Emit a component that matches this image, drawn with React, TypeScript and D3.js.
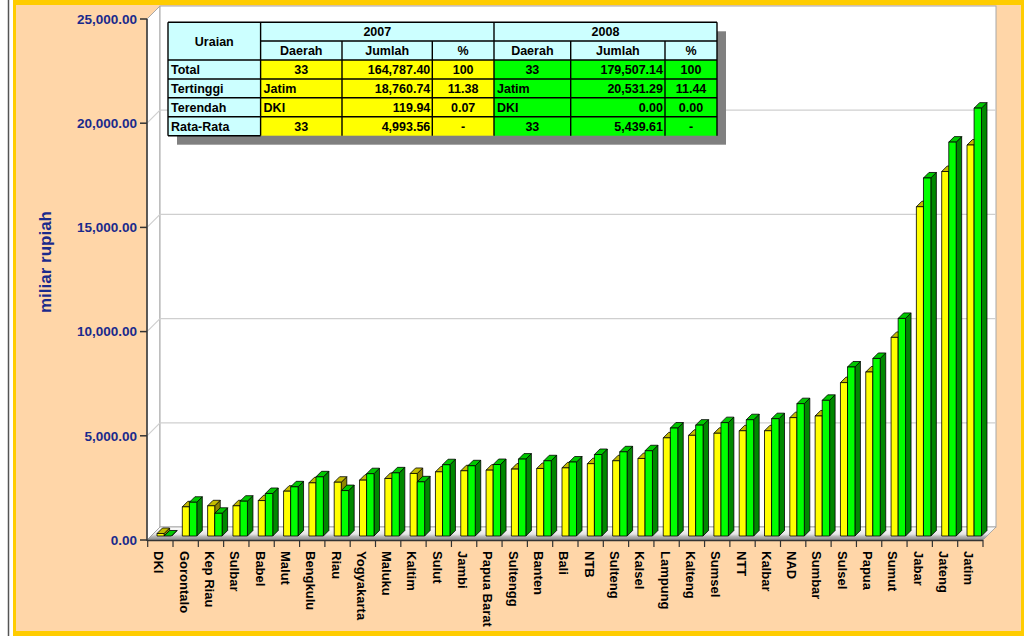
import React from 'react';
import * as d3 from 'd3';

const categories = ['DKI','Gorontalo','Kep Riau','Sulbar','Babel','Malut','Bengkulu','Riau','Yogyakarta','Maluku','Kaltim','Sulut','Jambi','Papua Barat','Sultengg','Banten','Bali','NTB','Sulteng','Kalsel','Lampung','Kalteng','Sumsel','NTT','Kalbar','NAD','Sumbar','Sulsel','Papua','Sumut','Jabar','Jateng','Jatim'];
const values2007 = [119.94,1400,1450,1450,1700,2150,2550,2580,2680,2760,3000,3080,3130,3160,3210,3240,3270,3470,3610,3720,4710,4830,4930,5050,5050,5680,5760,7360,7870,9530,15800,17490,18760.74];
const values2008 = [0,1620,1090,1670,2040,2360,2840,2180,2990,3030,2600,3420,3370,3430,3690,3610,3550,3910,4040,4090,5180,5320,5440,5580,5630,6350,6510,8110,8520,10440,17180,18900,20531.29];
const yTicks = [0, 5000, 10000, 15000, 20000, 25000];
const yTitle = 'miliar rupiah';

const tableYears = ['2007', '2008'];
const tableSubHeaders = ['Daerah', 'Jumlah', '%'];
const tableRowLabels = ['Total', 'Tertinggi', 'Terendah', 'Rata-Rata'];
const table2007 = [['33', '164,787.40', '100'], ['Jatim', '18,760.74', '11.38'], ['DKI', '119.94', '0.07'], ['33', '4,993.56', '-']];
const table2008 = [['33', '179,507.14', '100'], ['Jatim', '20,531.29', '11.44'], ['DKI', '0.00', '0.00'], ['33', '5,439.61', '-']];

const FONT = '"Liberation Sans", Arial, sans-serif';

export default function App() {
  const W = 1024, H = 636;
  const x = d3.scaleBand<string>().domain(categories).range([147.7, 983]).paddingInner(0).paddingOuter(0);
  const y = d3.scaleLinear().domain([0, 25000]).range([540, 19]);
  const bw = x.bandwidth();
  const D = 13; // wall depth
  const bOff = 4; // bar plane offset
  const dd = 5.5; // bar depth
  const fmt = d3.format(',.2f');
  const x0 = 147.7, x1 = 983;

  const bar = (bx: number, w: number, v: number, front: string, top: string, side: string, key: string) => {
    const yb = y(0) - bOff;
    const yt = y(v) - bOff;
    return (
      <g key={key} stroke="#000" strokeWidth={0.8} strokeLinejoin="round">
        <polygon points={`${bx + w},${yt} ${bx + w + dd},${yt - dd} ${bx + w + dd},${yb - dd} ${bx + w},${yb}`} fill={side} />
        <polygon points={`${bx},${yt} ${bx + dd},${yt - dd} ${bx + w + dd},${yt - dd} ${bx + w},${yt}`} fill={top} />
        <rect x={bx} y={yt} width={w} height={Math.max(0, yb - yt)} fill={front} />
      </g>
    );
  };

  const colX = [168, 260.6, 342, 432.3, 494, 570.7, 665, 717];
  const rowY = [22.3, 41, 60, 79, 97.7, 116.7, 135.7];

  const cellText = (txt: string, ci: number, ri: number, align: 'start' | 'middle' | 'end', key: string) => {
    const l = colX[ci], r = colX[ci + 1];
    const tx = align === 'start' ? l + 3 : align === 'end' ? r - 2 : (l + r) / 2;
    const ty = (rowY[ri] + rowY[ri + 1]) / 2 + 4.5;
    return <text key={key} x={tx} y={ty} textAnchor={align} fontSize={12.5} fontWeight="bold" fontFamily={FONT} fill="#000">{txt}</text>;
  };

  const dataAlign = (col: number, txt: string): 'start' | 'middle' | 'end' => {
    if (col === 1) return 'end';
    if (col === 2) return 'middle';
    return /^\d+$/.test(txt) ? 'middle' : 'start';
  };

  return (
    <svg width={W} height={H} style={{ position: 'absolute', left: 0, top: 0, background: '#fff' }}>
      <defs>
        <linearGradient id="floorG" gradientUnits="userSpaceOnUse" x1="0" y1={y(0) - D} x2="0" y2={y(0)}>
          <stop offset="0" stopColor="#ffffff" />
          <stop offset="0.55" stopColor="#e6e6e6" />
          <stop offset="0.72" stopColor="#b8b8b8" />
          <stop offset="1" stopColor="#8a8a8a" />
        </linearGradient>
      </defs>
      {/* frame */}
      <line x1={8.5} y1={0} x2={8.5} y2={H} stroke="#555" strokeWidth={1.5} />
      <rect x={13} y={0} width={W - 13} height={H} fill="#FFCC00" />
      <rect x={16} y={5} width={W - 16 - 3} height={H - 5 - 5} fill="#FFD6A8" />

      {/* walls */}
      <polygon points={`${x0 - 0.7},${y(25000)} ${x0 - 0.7 + D},${y(25000) - D} ${x0 - 0.7 + D},${y(0) - D} ${x0 - 0.7},${y(0)}`} fill="#fff" stroke="#a8a8a8" strokeWidth={1} />
      <rect x={x0 - 0.7 + D} y={y(25000) - D} width={x1 - x0 + 0.7} height={y(0) - y(25000)} fill="#fff" stroke="#a8a8a8" strokeWidth={1} />
      {yTicks.filter(t => t > 0 && t < 25000).map(t => (
        <g key={'g' + t} stroke="#cfcfcf" strokeWidth={1.2}>
          <line x1={147} y1={y(t)} x2={147 + D} y2={y(t) - D} />
          <line x1={147 + D} y1={y(t) - D} x2={x1 + D} y2={y(t) - D} />
        </g>
      ))}
      {/* floor */}
      <polygon points={`${147},${y(0)} ${x1},${y(0)} ${x1 + D},${y(0) - D} ${147 + D},${y(0) - D}`} fill="url(#floorG)" stroke="#9a9a9a" strokeWidth={0.8} />

      {/* bars */}
      {categories.map((c, i) => {
        const bx = (x(c) as number) + bOff + bw * 0.21;
        const wy = bw * 0.28, wg = bw * 0.292;
        return (
          <g key={c}>
            {bar(bx, wy, values2007[i], '#FFFF00', '#C4BC00', '#8C8600', c + 'a')}
            {bar(bx + wy, wg, values2008[i], '#00FF00', '#00C800', '#008800', c + 'b')}
          </g>
        );
      })}

      {/* y axis */}
      <line x1={147} y1={y(25000)} x2={147} y2={y(0) + 1} stroke="#333" strokeWidth={1.5} />
      {yTicks.map(t => (
        <g key={'t' + t}>
          <line x1={140} y1={y(t)} x2={147} y2={y(t)} stroke="#333" strokeWidth={1.5} />
          <text x={137} y={y(t) + 4.8} textAnchor="end" fontSize={13.5} fontWeight="bold" fontFamily={FONT} fill="#1A2A8C">{fmt(t)}</text>
        </g>
      ))}
      <text transform={`translate(51,262) rotate(-90)`} textAnchor="middle" fontSize={17} fontWeight="bold" fontFamily={FONT} fill="#1A2A8C">{yTitle}</text>

      {/* x axis */}
      <line x1={147} y1={y(0) + 0.5} x2={x1} y2={y(0) + 0.5} stroke="#333" strokeWidth={1.5} />
      {categories.concat(['__end']).map((c, i) => {
        const tx = i < categories.length ? (x(c) as number) : x1;
        return <line key={'xt' + i} x1={tx} y1={y(0)} x2={tx} y2={y(0) + 7} stroke="#333" strokeWidth={1.2} />;
      })}
      {categories.map(c => {
        const cx = (x(c) as number) + bw / 2 - 1.5;
        return (
          <text key={'xl' + c} transform={`translate(${cx},${y(0) + 11}) rotate(90)`} textAnchor="start" dominantBaseline="central" fontSize={13} fontWeight="bold" fontFamily={FONT} fill="#000">{c}</text>
        );
      })}

      {/* table */}
      <rect x={colX[0] + 9} y={rowY[0] + 9} width={colX[7] - colX[0]} height={rowY[6] - rowY[0]} fill="#808080" />
      <rect x={colX[0]} y={rowY[0]} width={colX[1] - colX[0]} height={rowY[6] - rowY[0]} fill="#CCFFFF" />
      <rect x={colX[1]} y={rowY[0]} width={colX[7] - colX[1]} height={rowY[2] - rowY[0]} fill="#CCFFFF" />
      <rect x={colX[1]} y={rowY[2]} width={colX[4] - colX[1]} height={rowY[6] - rowY[2]} fill="#FFFF00" />
      <rect x={colX[4]} y={rowY[2]} width={colX[7] - colX[4]} height={rowY[6] - rowY[2]} fill="#00FF00" />
      <g stroke="#000" strokeWidth={1.4}>
        <line x1={colX[0]} y1={rowY[0]} x2={colX[7]} y2={rowY[0]} />
        <line x1={colX[1]} y1={rowY[1]} x2={colX[7]} y2={rowY[1]} />
        {[2, 3, 4, 5].map(r => <line key={'h' + r} x1={colX[0]} y1={rowY[r]} x2={colX[7]} y2={rowY[r]} />)}
        <line x1={colX[0]} y1={rowY[6]} x2={colX[1]} y2={rowY[6]} />
        <line x1={colX[0]} y1={rowY[0]} x2={colX[0]} y2={rowY[6]} />
        <line x1={colX[1]} y1={rowY[0]} x2={colX[1]} y2={rowY[6]} />
        <line x1={colX[4]} y1={rowY[0]} x2={colX[4]} y2={rowY[6]} />
        <line x1={colX[7]} y1={rowY[0]} x2={colX[7]} y2={rowY[6]} />
        {[2, 3, 5, 6].map(c => <line key={'v' + c} x1={colX[c]} y1={rowY[1]} x2={colX[c]} y2={rowY[6]} />)}
      </g>
      <text x={(colX[0] + colX[1]) / 2} y={(rowY[0] + rowY[2]) / 2 + 4.5} textAnchor="middle" fontSize={12.5} fontWeight="bold" fontFamily={FONT}>Uraian</text>
      {tableYears.map((yr, k) => (
        <text key={yr} x={(colX[1 + k * 3] + colX[4 + k * 3]) / 2} y={(rowY[0] + rowY[1]) / 2 + 4.5} textAnchor="middle" fontSize={12.5} fontWeight="bold" fontFamily={FONT}>{yr}</text>
      ))}
      {tableYears.map((yr, k) => tableSubHeaders.map((h, j) => cellText(h, 1 + k * 3 + j, 1, 'middle', 'sh' + k + j)))}
      {tableRowLabels.map((lab, r) => cellText(lab, 0, r + 2, 'start', 'rl' + r))}
      {table2007.map((row, r) => row.map((v, j) => cellText(v, 1 + j, r + 2, dataAlign(j, v), 'a' + r + j)))}
      {table2008.map((row, r) => row.map((v, j) => cellText(v, 4 + j, r + 2, dataAlign(j, v), 'b' + r + j)))}
    </svg>
  );
}
